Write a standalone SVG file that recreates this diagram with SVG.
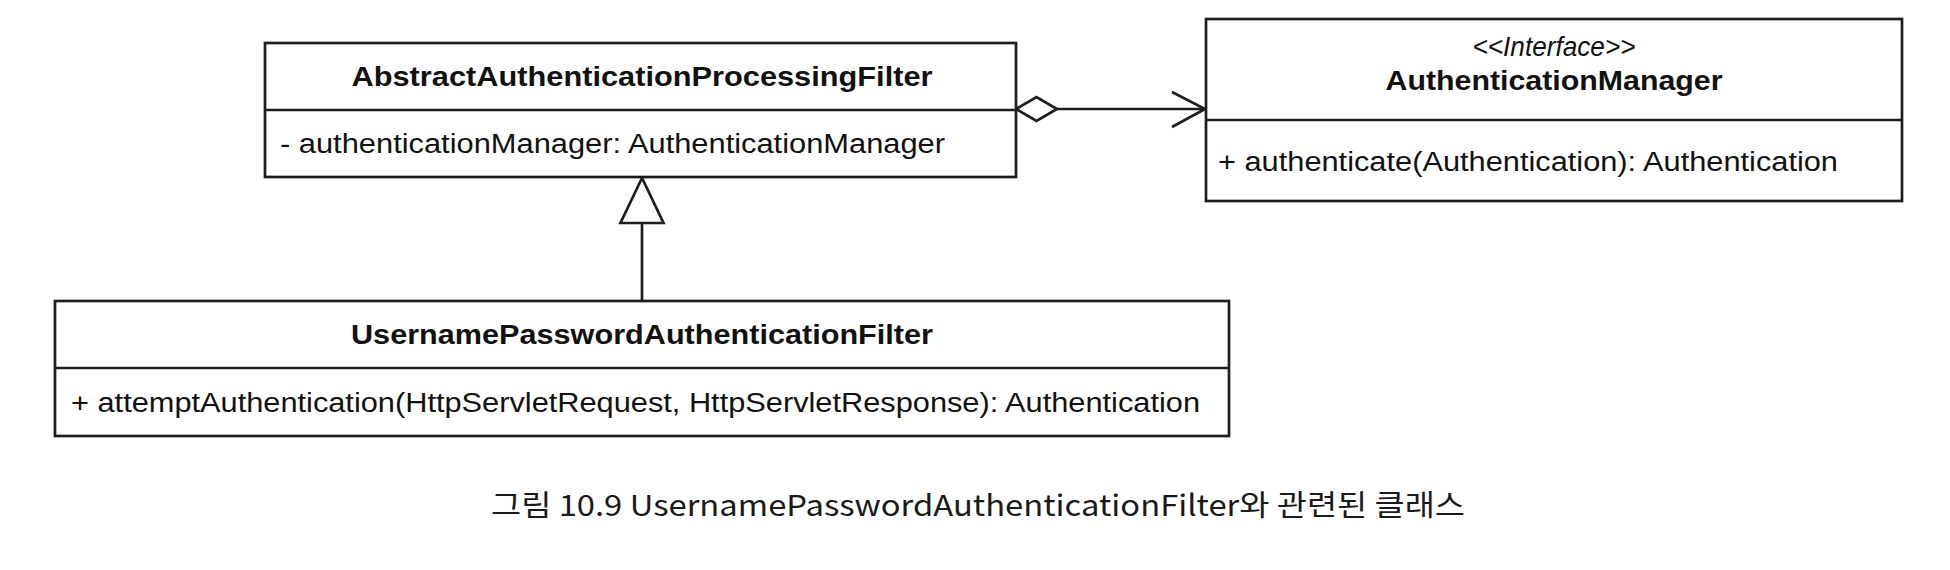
<svg xmlns="http://www.w3.org/2000/svg" width="1950" height="570" viewBox="0 0 1950 570">
<style>
.box{fill:#fff;stroke:#1e1e1e;stroke-width:2.7}
.div{stroke:#1e1e1e;stroke-width:2.4}
.t{font-family:"Liberation Sans",Arial,sans-serif;font-size:27px;fill:#111}
.b{font-weight:bold}
.i{font-style:italic}
.c{text-anchor:middle}
.ln{stroke:#1e1e1e;stroke-width:2.7;fill:none}
.cap{font-family:"Noto Sans CJK KR","Liberation Sans",sans-serif;font-size:29px;fill:#1a1a1a}
</style>
<rect width="1950" height="570" fill="#fff"/>
<g id="connectors">
  <line class="ln" x1="1057" y1="109" x2="1205" y2="109"/>
  <polygon class="ln" points="1016,109 1036.5,97 1057,109 1036.5,121" fill="#fff"/>
  <polyline class="ln" points="1172,92 1205,109 1172,127"/>
  <line class="ln" x1="642" y1="223" x2="642" y2="301"/>
  <polygon class="ln" points="642,178 620.5,223 663.5,223" fill="#fff"/>
</g>
<g id="AbstractAuthenticationProcessingFilter">
  <rect class="box" x="265" y="43" width="751" height="134"/>
  <line class="div" x1="265" y1="110" x2="1016" y2="110"/>
  <text class="t b c" x="642" y="86" textLength="581" lengthAdjust="spacingAndGlyphs">AbstractAuthenticationProcessingFilter</text>
  <text class="t" x="280" y="153" textLength="665" lengthAdjust="spacingAndGlyphs">- authenticationManager: AuthenticationManager</text>
</g>
<g id="AuthenticationManager">
  <rect class="box" x="1206" y="19" width="696" height="182"/>
  <line class="div" x1="1206" y1="120" x2="1902" y2="120"/>
  <text class="t i c" x="1554" y="56" textLength="163" lengthAdjust="spacingAndGlyphs">&lt;&lt;Interface&gt;&gt;</text>
  <text class="t b c" x="1554" y="90" textLength="337" lengthAdjust="spacingAndGlyphs">AuthenticationManager</text>
  <text class="t" x="1218" y="171" textLength="620" lengthAdjust="spacingAndGlyphs">+ authenticate(Authentication): Authentication</text>
</g>
<g id="UsernamePasswordAuthenticationFilter">
  <rect class="box" x="55" y="301" width="1174" height="135"/>
  <line class="div" x1="55" y1="368" x2="1229" y2="368"/>
  <text class="t b c" x="642" y="344" textLength="582" lengthAdjust="spacingAndGlyphs">UsernamePasswordAuthenticationFilter</text>
  <text class="t" x="71" y="412" textLength="1129" lengthAdjust="spacingAndGlyphs">+ attemptAuthentication(HttpServletRequest, HttpServletResponse): Authentication</text>
</g>
<text class="cap" x="491" y="516" textLength="974" lengthAdjust="spacingAndGlyphs">그림 10.9 UsernamePasswordAuthenticationFilter와 관련된 클래스</text>
</svg>
